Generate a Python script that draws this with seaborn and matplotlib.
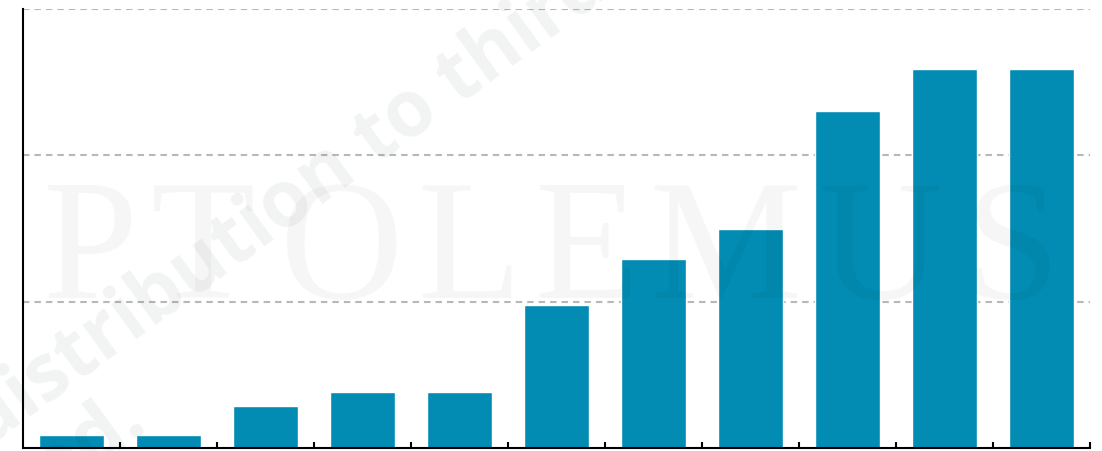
import numpy as np
import matplotlib
matplotlib.use("Agg")
import matplotlib.pyplot as plt
import seaborn as sns

# data (no labels shown, grid step = 10)
categories = ["c1", "c2", "c3", "c4", "c5", "c6", "c7", "c8", "c9", "c10", "c11"]
values = [0.9, 0.9, 2.9, 3.8, 3.8, 9.8, 12.9, 15.0, 23.0, 25.9, 25.9]
grid_ticks = [10, 20, 30]

bar_color = "#028bb3"

sns.set_style("white")

W, H = 1102, 452
fig = plt.figure(figsize=(W / 100, H / 100), dpi=100)
ax = fig.add_axes([23 / W, (H - 449) / H, (1090 - 23) / W, (449 - 10) / H])

sns.barplot(x=categories, y=values, color=bar_color, saturation=1,
            width=0.67, ax=ax, zorder=2)

ax.set_xlim(-0.5, len(categories) - 0.5)
ax.set_ylim(0, grid_ticks[-1])
ax.set_yticks(grid_ticks)
ax.set_xlabel("")
ax.set_ylabel("")

# ticks only at the boundaries between categories
ax.set_xticks(np.arange(0.5, len(categories), 1), minor=True)
ax.tick_params(axis="x", which="major", length=0, labelbottom=False)
ax.tick_params(axis="x", which="minor", direction="in", length=4,
               width=1.5, color="black", bottom=True)
ax.tick_params(axis="y", length=0, labelleft=False)

ax.yaxis.grid(True, linestyle=(0, (3.1, 2.4)), color="#b8b8b8", linewidth=1.5)
ax.xaxis.grid(False)
ax.set_axisbelow(True)

for side in ["top", "right"]:
    ax.spines[side].set_visible(False)
for side in ["left", "bottom"]:
    ax.spines[side].set_color("black")
    ax.spines[side].set_linewidth(1.5)

# watermark (letter-spaced company name + rotated notice)
wm_letters = "PTOLEMUS"
wm_left_px = [42, 151, 280, 417, 534, 649, 818, 965]
for ch, px in zip(wm_letters, wm_left_px):
    fig.text(px / W, 1 - 298 / H, ch, family="Liberation Serif",
             size=123, ha="left", va="baseline", color="black", alpha=0.035,
             zorder=10)
fig.text(298 / W, 1 - 222 / H, "Not for distribution to third parties",
         family="Open Sans", weight="bold", size=56, rotation=36,
         rotation_mode="anchor", ha="center", va="baseline",
         color="#1f3a2c", alpha=0.06, zorder=10)
fig.text(150 / W, 1 - 428 / H, "All rights reserved.",
         family="Open Sans", weight="bold", size=56, rotation=36,
         rotation_mode="anchor", ha="right", va="baseline",
         color="#1f3a2c", alpha=0.06, zorder=10)

fig.savefig("out.png", dpi=100)
